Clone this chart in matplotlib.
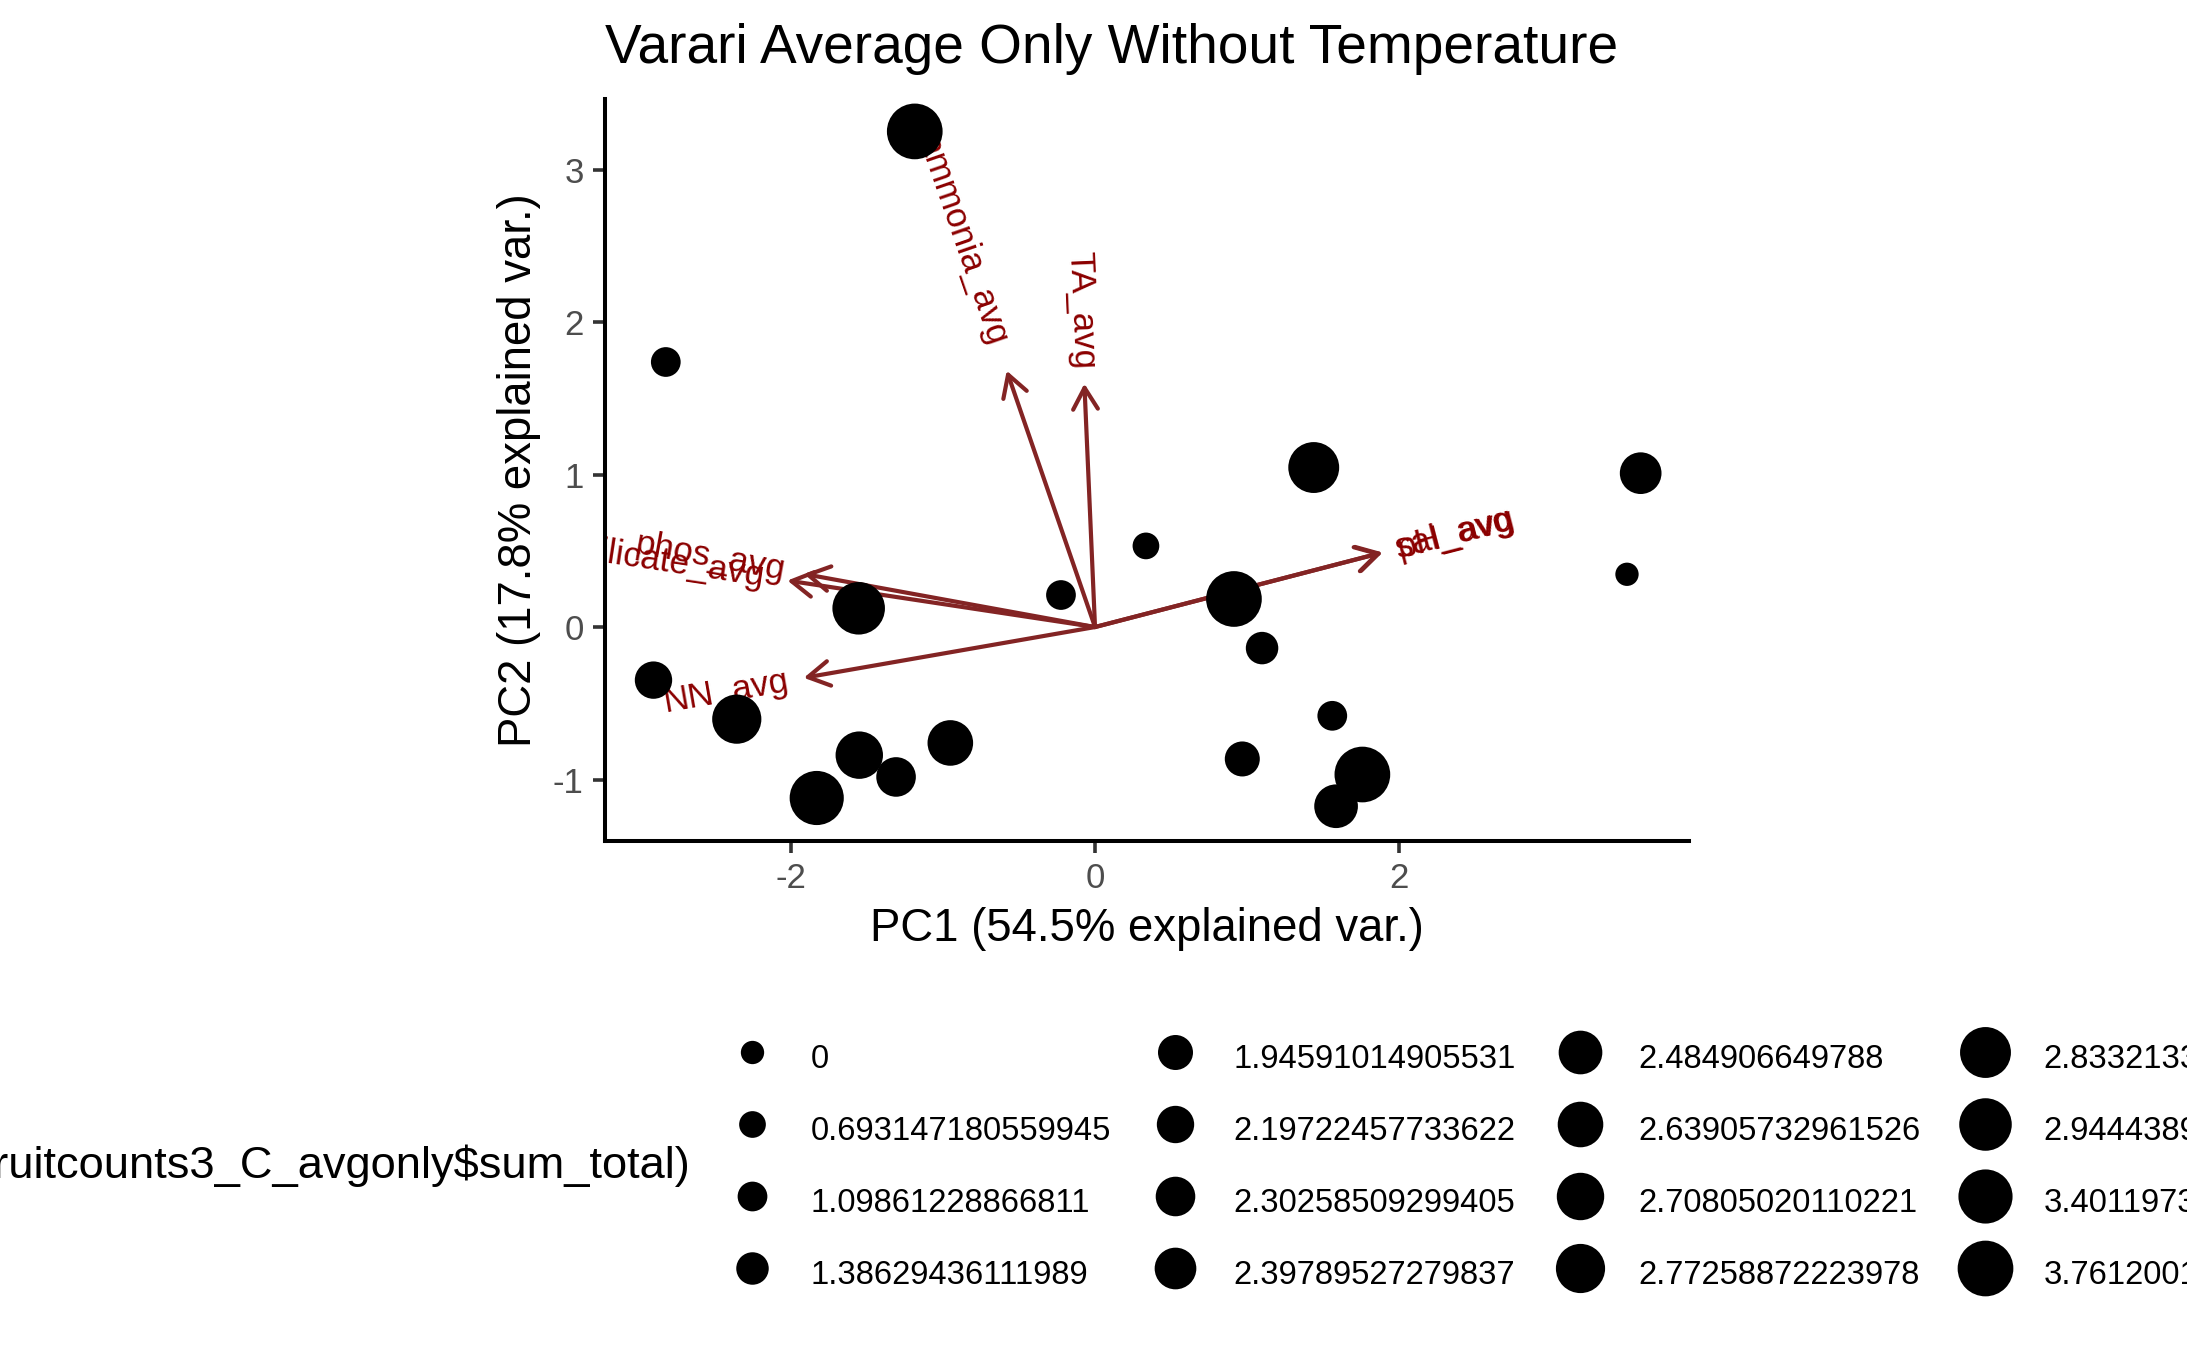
import numpy as np
import matplotlib
matplotlib.use("Agg")
import matplotlib.pyplot as plt
from matplotlib.lines import Line2D
from matplotlib.patches import ArrowStyle
from matplotlib.font_manager import FontProperties
import matplotlib.transforms as mtransforms

plt.rcParams['font.family'] = ['Liberation Sans', 'DejaVu Sans']
plt.rcParams['axes.unicode_minus'] = False

# ---------------- data ----------------
title = "Varari Average Only Without Temperature"
xlab = "PC1 (54.5% explained var.)"
ylab = "PC2 (17.8% explained var.)"
legend_title = "log(recruitcounts3_C_avgonly$sum_total)"

pc1 = [-1.186, -2.824, 1.439, 3.590, 0.335, 3.500, -0.224, 0.914, -1.555, 1.099,
       -2.905, -2.357, 1.561, 0.969, -1.551, -0.952, -1.309, -1.831, 1.759, 1.586]
pc2 = [3.250, 1.738, 1.046, 1.009, 0.532, 0.346, 0.210, 0.184, 0.123, -0.138,
       -0.348, -0.604, -0.582, -0.865, -0.840, -0.760, -0.983, -1.121, -0.967, -1.175]
log_sum_total = [3.76120011569356, 1.09861228866811, 2.83321334405622, 2.39789527279837,
                 0.693147180559945, 0.0, 1.09861228866811, 3.76120011569356,
                 2.94443897916644, 1.38629436111989, 2.19722457733622, 2.77258872223978,
                 1.09861228866811, 1.94591014905531, 2.70805020110221, 2.63905732961526,
                 2.30258509299405, 3.40119738166216, 3.76120011569356, 2.484906649788]

size_levels = [0.0, 0.693147180559945, 1.09861228866811, 1.38629436111989,
               1.94591014905531, 2.19722457733622, 2.30258509299405, 2.39789527279837,
               2.484906649788, 2.63905732961526, 2.70805020110221, 2.77258872223978,
               2.83321334405622, 2.94443897916644, 3.40119738166216, 3.76120011569356]
legend_labels = ["0", "0.693147180559945", "1.09861228866811", "1.38629436111989",
                 "1.94591014905531", "2.19722457733622", "2.30258509299405", "2.39789527279837",
                 "2.484906649788", "2.63905732961526", "2.70805020110221", "2.77258872223978",
                 "2.83321334405622", "2.94443897916644", "3.40119738166216", "3.76120011569356"]

var_names = ["NN_avg", "phos_avg", "silicate_avg", "ammonia_avg", "TA_avg", "pH_avg", "sal_avg"]
var_pc1 = [-1.916, -1.915, -2.024, -0.581, -0.070, 1.893, 1.885]
var_pc2 = [-0.333, 0.348, 0.305, 1.681, 1.596, 0.489, 0.487]

xticks = [-2, 0, 2]
yticks = [-1, 0, 1, 2, 3]

# ---------------- figure ----------------
W, H, DPI = 2187, 1351, 200
fig = plt.figure(figsize=(W / DPI, H / DPI), dpi=DPI)
fig.patch.set_facecolor('white')
renderer = fig.canvas.get_renderer()

L, R, T, B = 605, 1689, 99.4, 840.7
ax = fig.add_axes([L / W, 1 - B / H, (R - L) / W, (B - T) / H])
ax.set_xlim(-3.224, 3.908)
ax.set_ylim(-1.401, 3.46)

def diam_pt(level_index):
    # ordinal size scale: marker area grows linearly with level rank
    d_px = np.sqrt(543.0 + 170.6 * level_index)
    return d_px * 72.0 / DPI

ranks = [size_levels.index(v) for v in log_sum_total]
sizes = [diam_pt(r) ** 2 for r in ranks]

arrow_col = '#832424'
label_fs = 12.6
label_prop = FontProperties(family=['Liberation Sans', 'DejaVu Sans'], size=label_fs)
astyle = ArrowStyle('->', head_length=0.77, head_width=0.445)
for name, vx, vy in zip(var_names, var_pc1, var_pc2):
    ax.annotate('', xy=(vx, vy), xytext=(0, 0),
                arrowprops=dict(arrowstyle=astyle, color=arrow_col, lw=1.5,
                                shrinkA=0, shrinkB=0, mutation_scale=10),
                zorder=2)
    ang = np.degrees(np.arctan(vy / vx))
    ha = 'left' if vx > 0 else 'right'
    nrm = np.hypot(vx, vy)
    w_px, _, _ = renderer.get_text_width_height_descent(name, label_prop, ismath=False)
    off = 0.125 * w_px * 72.0 / DPI  # like hjust = (1 - 1.25*sign(x))/2
    tr = mtransforms.offset_copy(ax.transData, fig=fig, x=off * vx / nrm,
                                 y=off * vy / nrm, units='points')
    ax.text(vx, vy, name, rotation=ang, rotation_mode='anchor', ha=ha, va='center',
            color='#8B0000', fontproperties=label_prop, transform=tr, zorder=2.5,
            clip_on=True)

ax.scatter(pc1, pc2, s=sizes, c='black', edgecolors='none', zorder=3)

for side in ['top', 'right']:
    ax.spines[side].set_visible(False)
for side in ['left', 'bottom']:
    ax.spines[side].set_linewidth(1.45)
    ax.spines[side].set_color('black')
ax.set_xticks(xticks)
ax.set_yticks(yticks)
ax.set_xticklabels([str(t) for t in xticks])
ax.set_yticklabels([str(t) for t in yticks])
ax.tick_params(axis='both', length=4.2, width=1.3, color='#333333',
               labelcolor='#4D4D4D', labelsize=12.5, pad=3.5)

fig.text(L / W, 1 - 49 / H, title, ha='left', va='center', fontsize=19.8)
fig.text((L + R) / 2 / W, 1 - 929 / H, xlab, ha='center', va='center', fontsize=16.4)
fig.text(519 / W, 1 - 470 / H, ylab, ha='center', va='center', rotation=90, fontsize=16.4)

# legend
handles = [Line2D([], [], marker='o', linestyle='', color='black', markeredgewidth=0,
                  markersize=diam_pt(i)) for i in range(len(size_levels))]
fs = 11.8
em = fs * DPI / 72
leg = fig.legend(handles, legend_labels, ncol=4, loc='upper left',
                 bbox_to_anchor=((751.8 - 0.85 * em) / W, 1 - (1063 - 0.85 * em) / H),
                 frameon=False, fontsize=fs, handlelength=1.7, handleheight=1.7,
                 handletextpad=0.935, columnspacing=1.11, labelspacing=0.85,
                 borderpad=0, borderaxespad=0)
fig.text(690 / W, 1 - 1166 / H, legend_title, ha='right', va='center', fontsize=16.3)

fig.savefig('out.png', dpi=DPI)
